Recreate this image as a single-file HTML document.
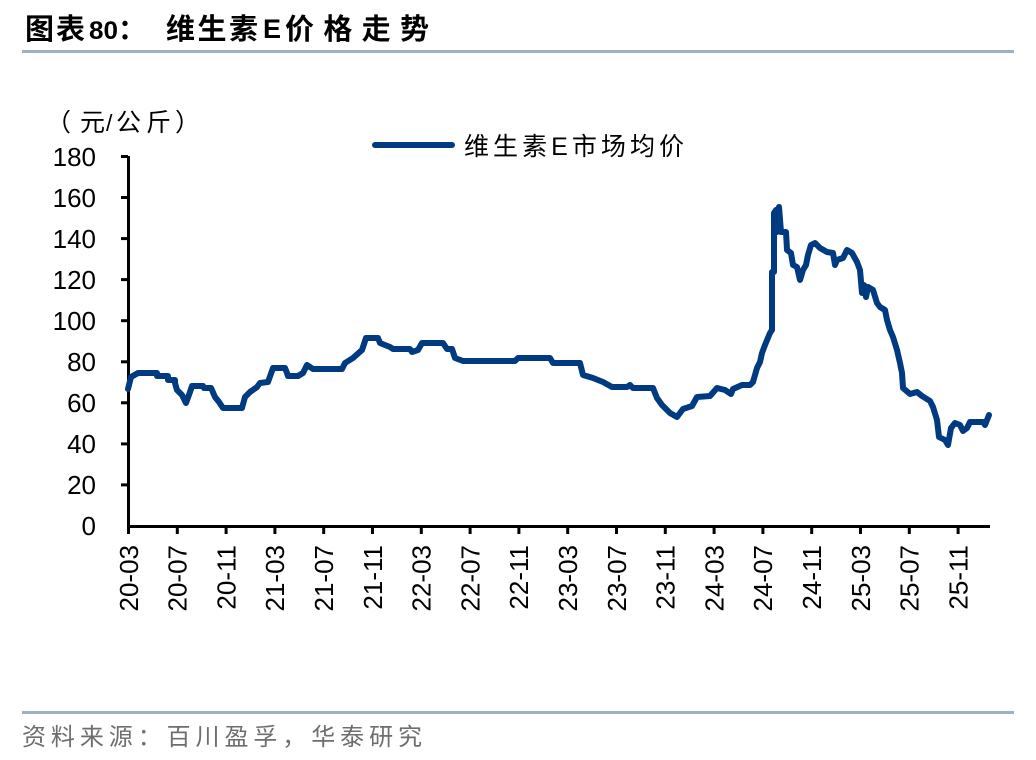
<!DOCTYPE html>
<html>
<head>
<meta charset="utf-8">
<style>
html,body{margin:0;padding:0;background:#fff;}
svg{display:block;}
</style>
</head>
<body>
<svg width="1036" height="760" viewBox="0 0 1036 760" xmlns="http://www.w3.org/2000/svg">
<rect width="1036" height="760" fill="#fff"/>
<!-- Title -->
<g font-family="'Liberation Sans','Noto Sans CJK SC',sans-serif" font-weight="bold" fill="#000">
<text x="25" y="39" font-size="29" textLength="60" lengthAdjust="spacing">图表</text>
<text x="89" y="39" font-size="25" textLength="29" lengthAdjust="spacingAndGlyphs">80</text>
<text x="118" y="39" font-size="28">：</text>
<text x="166" y="39" font-size="29" textLength="92" lengthAdjust="spacing">维生素</text>
<text x="263" y="38" font-size="27">E</text>
<text x="285" y="39" font-size="29" textLength="144" lengthAdjust="spacing">价格走势</text>
</g>
<line x1="22" y1="51.5" x2="1014" y2="51.5" stroke="#9cb0c8" stroke-width="3"/>

<!-- unit label -->
<g font-family="'Liberation Sans','Noto Sans CJK SC',sans-serif" font-size="25" fill="#000">
<text x="46" y="131">（</text>
<text x="80" y="131">元</text>
<text x="106" y="131" font-size="23">/</text>
<text x="116" y="131">公</text>
<text x="146" y="131">斤</text>
<text x="175" y="131">）</text>
</g>

<!-- Legend -->
<line x1="375" y1="145" x2="452" y2="145" stroke="#003a80" stroke-width="6" stroke-linecap="round"/>
<text x="464" y="155" font-family="'Liberation Sans','Noto Sans CJK SC',sans-serif" font-size="25" fill="#000" textLength="220" lengthAdjust="spacing">维生素E市场均价</text>

<!-- Y axis -->
<g stroke="#000" stroke-width="3">
<line x1="128.5" y1="156" x2="128.5" y2="527.5"/>
<line x1="121" y1="156.5" x2="128" y2="156.5"/>
<line x1="121" y1="197.5" x2="128" y2="197.5"/>
<line x1="121" y1="238.6" x2="128" y2="238.6"/>
<line x1="121" y1="279.6" x2="128" y2="279.6"/>
<line x1="121" y1="320.7" x2="128" y2="320.7"/>
<line x1="121" y1="361.8" x2="128" y2="361.8"/>
<line x1="121" y1="402.8" x2="128" y2="402.8"/>
<line x1="121" y1="443.9" x2="128" y2="443.9"/>
<line x1="121" y1="484.9" x2="128" y2="484.9"/>
<line x1="127" y1="526.5" x2="990" y2="526.5"/>
</g>
<g font-family="'Liberation Sans',sans-serif" font-size="26" fill="#000" text-anchor="end">
<text x="96" y="166">180</text>
<text x="96" y="207">160</text>
<text x="96" y="248">140</text>
<text x="96" y="289">120</text>
<text x="96" y="330">100</text>
<text x="96" y="371">80</text>
<text x="96" y="412">60</text>
<text x="96" y="453">40</text>
<text x="96" y="494">20</text>
<text x="96" y="535">0</text>
</g>

<!-- X ticks -->
<g stroke="#000" stroke-width="3">
<line x1="128.5" y1="526" x2="128.5" y2="534"/>
<line x1="177.3" y1="526" x2="177.3" y2="534"/>
<line x1="226.1" y1="526" x2="226.1" y2="534"/>
<line x1="274.9" y1="526" x2="274.9" y2="534"/>
<line x1="323.7" y1="526" x2="323.7" y2="534"/>
<line x1="372.5" y1="526" x2="372.5" y2="534"/>
<line x1="421.3" y1="526" x2="421.3" y2="534"/>
<line x1="470.1" y1="526" x2="470.1" y2="534"/>
<line x1="518.9" y1="526" x2="518.9" y2="534"/>
<line x1="567.7" y1="526" x2="567.7" y2="534"/>
<line x1="616.5" y1="526" x2="616.5" y2="534"/>
<line x1="665.3" y1="526" x2="665.3" y2="534"/>
<line x1="714.1" y1="526" x2="714.1" y2="534"/>
<line x1="762.9" y1="526" x2="762.9" y2="534"/>
<line x1="811.7" y1="526" x2="811.7" y2="534"/>
<line x1="860.5" y1="526" x2="860.5" y2="534"/>
<line x1="909.3" y1="526" x2="909.3" y2="534"/>
<line x1="958.1" y1="526" x2="958.1" y2="534"/>
</g>
<g font-family="'Liberation Sans',sans-serif" font-size="26" fill="#000" text-anchor="end">
<text transform="translate(137.8,545) rotate(-90)">20-03</text>
<text transform="translate(186.6,545) rotate(-90)">20-07</text>
<text transform="translate(235.4,545) rotate(-90)">20-11</text>
<text transform="translate(284.2,545) rotate(-90)">21-03</text>
<text transform="translate(333,545) rotate(-90)">21-07</text>
<text transform="translate(381.8,545) rotate(-90)">21-11</text>
<text transform="translate(430.6,545) rotate(-90)">22-03</text>
<text transform="translate(479.4,545) rotate(-90)">22-07</text>
<text transform="translate(528.2,545) rotate(-90)">22-11</text>
<text transform="translate(577,545) rotate(-90)">23-03</text>
<text transform="translate(625.8,545) rotate(-90)">23-07</text>
<text transform="translate(674.6,545) rotate(-90)">23-11</text>
<text transform="translate(723.4,545) rotate(-90)">24-03</text>
<text transform="translate(772.2,545) rotate(-90)">24-07</text>
<text transform="translate(821,545) rotate(-90)">24-11</text>
<text transform="translate(869.8,545) rotate(-90)">25-03</text>
<text transform="translate(918.6,545) rotate(-90)">25-07</text>
<text transform="translate(967.4,545) rotate(-90)">25-11</text>
</g>

<!-- Series -->
<polyline fill="none" stroke="#003a80" stroke-width="6" stroke-linejoin="round" stroke-linecap="round"
points="128,389 131,377 138,373 157,373 157,376 168,376 168,380 175,380 175,383 177,390 182,395 186,403 190,392 192,386 203,386 204,388 211,388 212,390 215,397 219,402 223,408 242,408 245,397 250,392 257,387 260,383 268,382 273,368 285,368 287,373 288,376 298,376 303,373 307,365 313,369 342,369 345,363 353,358 362,350 366,338 378,338 380,343 390,347 393,349 410,349 412,352 418,350 422,343 443,343 447,349 452,349 455,358 463,361 515,361 518,358 550,358 553,363 580,363 583,375 593,378 603,382 612,387 627,387 630,385 633,388 653,388 657,398 662,405 670,413 677,417 683,409 692,406 697,397 710,396 717,388 725,390 731,394 733,389 742,385 750,385 753,382 757,368 760,362 762,353 765,345 770,333 772,330 772,272 774,272 774,213 776,210 777,232 779,207 781,232 786,232 787,250 791,253 793,265 797,267 800,280 803,270 806,265 808,255 811,245 815,243 820,248 827,252 833,253 835,265 837,260 843,258 847,250 852,253 857,262 860,270 862,293 864,285 866,297 868,287 873,290 877,303 880,307 885,310 887,320 890,330 893,337 897,350 900,363 902,373 903,388 910,394 917,392 922,396 930,401 933,407 937,420 939,437 945,440 948,445 951,428 955,423 960,425 963,431 967,428 970,422 983,422 985,425 989,415"/>

<!-- Footer -->
<line x1="22" y1="712.5" x2="1014" y2="712.5" stroke="#9cb0c8" stroke-width="3"/>
<text x="22" y="745" font-family="'Liberation Sans','Noto Sans CJK SC',sans-serif" font-size="24" fill="#6e6e6e" textLength="400" lengthAdjust="spacing">资料来源：百川盈孚，华泰研究</text>
</svg>
</body>
</html>
